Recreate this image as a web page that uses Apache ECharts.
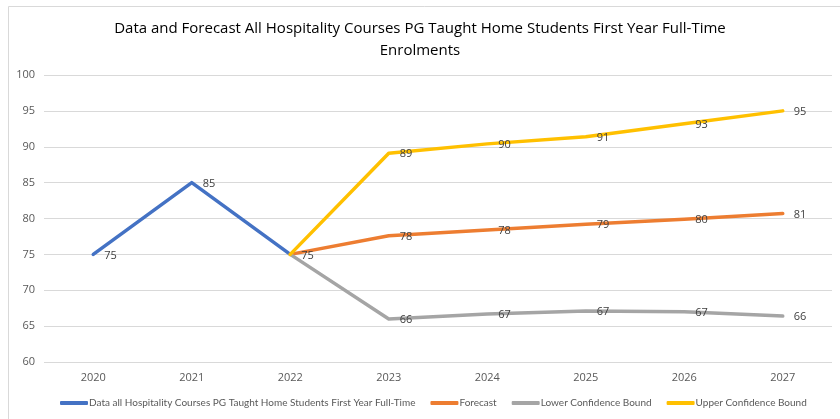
<!DOCTYPE html>
<html>
<head>
<meta charset="utf-8">
<script src="https://cdn.jsdelivr.net/npm/echarts@6/dist/echarts.min.js"></script>
<style>
  html, body { margin: 0; padding: 0; background: #fff; }
  #chart { width: 840px; height: 419px; }
</style>
</head>
<body>
<div id="chart"></div>
<script>
var years = ['2020', '2021', '2022', '2023', '2024', '2025', '2026', '2027'];
var actual = [75, 85, 75, null, null, null, null, null];
var forecast = [null, null, 75, 77.6, 78.4, 79.2, 79.9, 80.7];
var lowerBound = [null, null, 75, 66.0, 66.7, 67.1, 67.0, 66.4];
var upperBound = [null, null, 75, 89.1, 90.4, 91.4, 93.2, 95.0];

var seriesNames = [
    'Data all Hospitality Courses PG Taught Home Students First Year Full-Time',
    'Forecast',
    'Lower Confidence Bound',
    'Upper Confidence Bound'
];
var colors = ['#4472C4', '#ED7D31', '#A5A5A5', '#FFC000'];

var fontFam = '"Open Sans", "Liberation Sans", sans-serif';

// the shared 2022 point only gets one label (on the actual series)
function hideFirst(arr) {
    return arr.map(function (v, i) {
        if (i === 2) return { value: v, label: { show: false } };
        return v;
    });
}

function makeLine(name, data, color) {
    return {
        name: name,
        type: 'line',
        data: data,
        symbol: 'circle',
        symbolSize: 0,
        showSymbol: true,
        smooth: false,
        connectNulls: false,
        lineStyle: { color: color, width: 3.5, cap: 'round', join: 'round' },
        itemStyle: { color: color },
        label: {
            show: true,
            position: 'right',
            distance: 11,
            offset: [0, 1],
            color: '#404040',
            fontSize: 11,
            fontFamily: fontFam,
            formatter: function (p) { return Math.round(p.value); }
        }
    };
}

var chart = echarts.init(document.getElementById('chart'));

chart.setOption({
    backgroundColor: '#fff',
    animation: false,
    color: colors,
    title: {
        text: 'Data and Forecast All Hospitality Courses PG Taught Home Students First Year Full-Time\nEnrolments',
        left: 'center',
        top: 13,
        textStyle: {
            fontFamily: fontFam,
            fontSize: 15,
            fontWeight: 'normal',
            color: '#000',
            lineHeight: 22
        }
    },
    graphic: [{
        type: 'rect',
        shape: { x: 8.5, y: 6.5, width: 840, height: 420 },
        style: { fill: 'none', stroke: '#D9D9D9', lineWidth: 1 },
        silent: true
    }],
    legend: {
        bottom: 6,
        left: 55,
        itemWidth: 28,
        itemHeight: 4,
        itemGap: 15,
        icon: 'roundRect',
        textStyle: { color: '#595959', fontSize: 10, fontFamily: 'Lato, "Open Sans", sans-serif', padding: [0, 0, 0, -4] },
        data: seriesNames
    },
    grid: { left: 44, right: 8, top: 75, bottom: 57 },
    xAxis: {
        type: 'category',
        data: years,
        boundaryGap: true,
        axisLine: { show: false },
        axisTick: { show: false },
        axisLabel: { color: '#595959', fontSize: 11, fontFamily: fontFam, margin: 10 }
    },
    yAxis: {
        type: 'value',
        min: 60,
        max: 100,
        interval: 5,
        axisLine: { show: false },
        axisTick: { show: false },
        axisLabel: { color: '#595959', fontSize: 11, fontFamily: fontFam, margin: 9 },
        splitLine: { lineStyle: { color: '#D9D9D9', width: 1 } }
    },
    series: [
        makeLine(seriesNames[0], actual, colors[0]),
        makeLine(seriesNames[1], hideFirst(forecast), colors[1]),
        makeLine(seriesNames[2], hideFirst(lowerBound), colors[2]),
        makeLine(seriesNames[3], hideFirst(upperBound), colors[3])
    ]
});
</script>
</body>
</html>
